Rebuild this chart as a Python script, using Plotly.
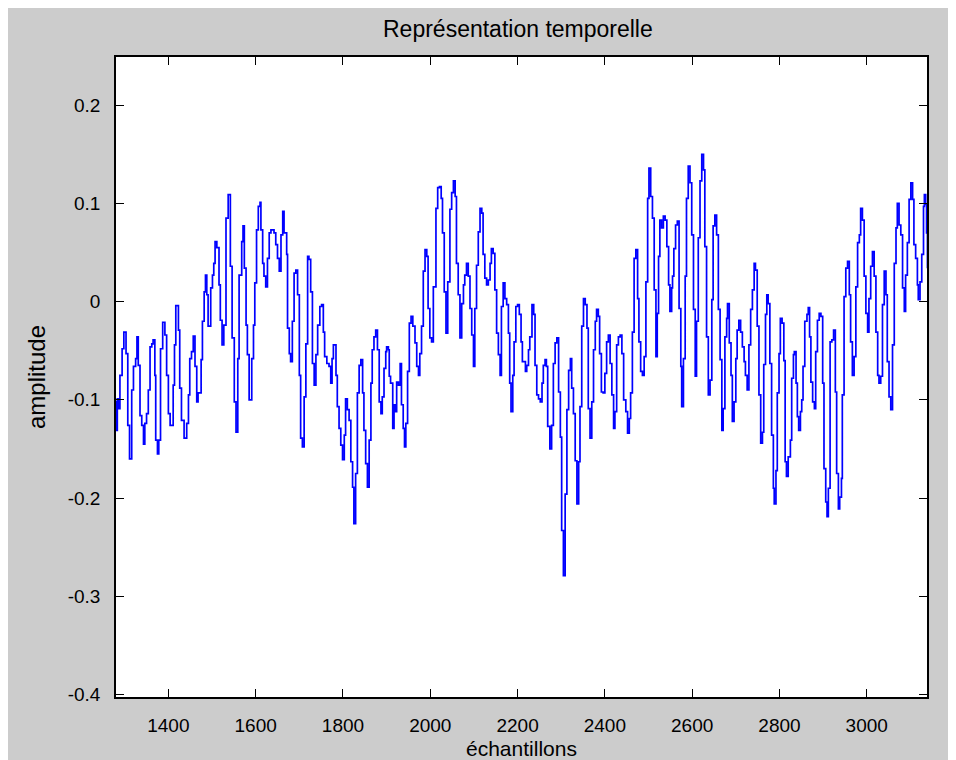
import plotly.graph_objects as go

# ---- data (sample index, amplitude) ----
x_seg1 = [1280,1281,1283,1286,1289,1294,1298,1303,1307,1311,1316,1320,1325,1328,1331,1335,1339,1343,1346,1350,
          1354,1358,1362,1365,1369,1371,1375,1378,1382,1387,1392,1396,1400,1404,1411,1414,1417,1423,1426,1430,
          1436,1442,1446,1449,1453,1457,1461,1465,1468,1475,1478,1482,1485,1488,1491,1497,1501,1504,1507,1511,
          1516,1519,1523,1527,1532,1537,1542,1546,1551,1555,1559,1562,1568,1571,1574,1578,1581,1585]
y_seg1 = [-0.102,-0.131,-0.099,-0.109,-0.075,-0.048,-0.031,-0.053,-0.126,-0.160,-0.090,-0.066,-0.058,-0.036,-0.065,
          -0.116,-0.126,-0.145,-0.124,-0.114,-0.090,-0.046,-0.043,-0.039,-0.075,-0.141,-0.155,-0.141,-0.048,-0.021,
          -0.034,-0.075,-0.114,-0.126,-0.085,-0.044,-0.004,-0.029,-0.088,-0.121,-0.139,-0.124,-0.095,-0.058,-0.051,
          -0.035,-0.066,-0.102,-0.093,-0.059,-0.020,0.010,0.027,0.007,-0.025,0.014,0.027,0.039,0.061,0.055,
          0.017,-0.019,-0.044,-0.024,0.085,0.109,0.036,-0.037,-0.102,-0.133,-0.058,0.027,0.061,0.077,0.034,
          -0.024,-0.054,-0.100]

x_seg2 = [1591,1595,1598,1602,1606,1610,1612,1616,1619,1623,1627,1631,1635,1639,1642,1646,1650,1654,1658,1662,
          1665,1671,1673,1677,1680,1684,1688,1692,1696,1700,1703,1707,1711,1715,1719,1722,1726,1730,1734,1738,
          1742,1747,1751,1755,1758,1763,1768,1772,1775,1778,1784,1787,1791,1795,1799,1803,1806,1810,1814,1818,
          1822,1825,1829,1833,1837,1841,1845,1848,1852,1856,1860,1864,1867,1871,1875,1879,1883,1887,1890,1894,1898]
y_seg2 = [-0.058,-0.024,0.019,0.073,0.097,0.101,0.073,0.039,0.026,0.015,0.044,0.070,0.073,0.073,0.070,
          0.058,0.044,0.031,0.068,0.092,0.070,0.048,-0.027,-0.053,-0.061,-0.020,0.029,0.032,0.007,-0.075,
          -0.139,-0.148,-0.097,-0.043,0.046,0.043,0.010,-0.063,-0.085,-0.054,-0.024,-0.005,-0.003,-0.031,-0.056,
          -0.063,-0.066,-0.083,-0.058,-0.044,-0.075,-0.107,-0.129,-0.146,-0.161,-0.136,-0.099,-0.110,-0.121,-0.163,
          -0.189,-0.226,-0.175,-0.093,-0.065,-0.059,-0.093,-0.131,-0.165,-0.189,-0.141,-0.083,-0.049,-0.036,-0.029,
          -0.049,-0.102,-0.114,-0.097,-0.068,-0.051]

x_seg3 = [1900,1904,1906,1909,1914,1917,1920,1923,1927,1931,1934,1938,1941,1944,1948,1952,1956,1960,1965,1969,
          1973,1976,1980,1984,1988,1992,1995,1999,2003,2007,2013,2017,2021,2025,2028,2032,2036,2040,2045,2049,
          2053,2057,2060,2064,2068,2072,2076,2079,2083,2087,2091,2095,2099,2102,2106,2110,2114,2118,2121,2125,
          2129,2133,2137,2140,2144,2148,2152,2156,2160,2163,2167,2171,2175,2179,2182,2185,2189,2192,2196,2200,
          2204,2208]
y_seg3 = [-0.046,-0.049,-0.076,-0.083,-0.129,-0.105,-0.112,-0.082,-0.085,-0.063,-0.105,-0.129,-0.148,-0.124,-0.071,
          -0.022,-0.015,-0.025,-0.042,-0.066,-0.075,-0.053,-0.025,0.031,0.053,0.046,-0.007,-0.037,-0.041,0.015,
          0.095,0.116,0.117,0.105,0.070,0.010,-0.032,0.020,0.094,0.111,0.123,0.107,0.039,0.007,-0.037,
          -0.002,0.017,0.027,0.039,0.026,-0.007,-0.034,-0.066,-0.007,0.037,0.071,0.095,0.090,0.048,0.024,
          0.017,0.022,0.039,0.054,0.049,0.012,-0.032,-0.054,-0.075,-0.005,0.019,0.003,-0.003,-0.032,-0.083,
          -0.112,-0.075,-0.041,-0.005,-0.003,-0.013,-0.041]

x_seg4 = [2211,2218,2221,2225,2228,2233,2237,2240,2244,2248,2252,2256,2259,2263,2266,2269,2274,2278,2282,2286,
          2290,2294,2298,2301,2305,2309,2313,2317,2321,2324,2328,2332,2336,2340,2343,2347,2351,2355,2359,2362,
          2366,2370,2374,2378,2381,2385,2388,2392,2396,2400,2404,2408,2412,2416,2420,2423,2427,2431,2435,2439,
          2443,2448,2452,2456,2459,2463,2467,2471,2475,2478,2482,2486,2490,2494,2498,2501,2505,2509,2513,2517,2520]
y_seg4 = [-0.061,-0.071,-0.065,-0.049,-0.036,-0.003,-0.013,-0.065,-0.095,-0.099,-0.102,-0.083,-0.065,-0.059,-0.066,
          -0.127,-0.150,-0.126,-0.063,-0.042,-0.037,-0.092,-0.138,-0.233,-0.279,-0.196,-0.110,-0.070,-0.058,-0.088,
          -0.114,-0.162,-0.206,-0.163,-0.107,-0.025,0.003,-0.003,-0.027,-0.109,-0.139,-0.102,-0.049,-0.020,-0.008,
          -0.015,-0.053,-0.092,-0.093,-0.073,-0.041,-0.034,-0.063,-0.095,-0.129,-0.112,-0.044,-0.036,-0.034,-0.053,
          -0.100,-0.112,-0.134,-0.119,-0.093,-0.031,0.044,0.053,0.003,-0.041,-0.071,-0.075,-0.056,0.020,0.105,
          0.136,0.107,0.085,0.012,-0.056,-0.012]

x_seg5 = [2523,2526,2530,2534,2538,2542,2546,2549,2553,2555,2558,2562,2566,2570,2574,2576,2580,2584,2587,2591,
          2595,2599,2603,2607,2610,2614,2618,2622,2626,2629,2633,2637,2641,2645,2648,2652,2656,2660,2664,2668,
          2671,2675,2679,2681,2685,2689,2692,2696,2700,2703,2707,2711,2715,2719,2722,2726,2730,2734,2738,2742,
          2745,2749,2753,2757,2761,2764,2768,2771,2774,2778,2782,2786,2788,2792,2795,2799,2802,2806,2810,2813,
          2816,2820,2825,2828,2832]
y_seg5 = [0.046,0.083,0.075,0.087,0.083,0.056,0.017,-0.010,0.014,0.026,0.054,0.078,0.082,-0.007,-0.066,
          -0.107,-0.058,0.026,0.105,0.138,0.121,0.068,-0.008,-0.076,-0.020,0.065,0.123,0.150,0.134,0.056,
          -0.036,-0.095,-0.080,0.002,0.077,0.088,0.068,-0.008,-0.059,-0.131,-0.109,-0.036,-0.017,-0.002,-0.042,
          -0.075,-0.122,-0.102,-0.058,-0.029,-0.019,-0.031,-0.046,-0.061,-0.075,-0.090,-0.044,-0.008,0.012,0.039,
          0.032,-0.025,-0.095,-0.144,-0.133,-0.064,-0.013,0.007,-0.002,-0.063,-0.136,-0.190,-0.206,-0.172,-0.093,
          -0.053,-0.017,-0.022,-0.060,-0.163,-0.178,-0.158,-0.141,-0.078,-0.054]

x_seg6 = [2834,2838,2841,2844,2848,2851,2854,2858,2863,2866,2869,2872,2876,2880,2883,2887,2891,2895,2899,2902,
          2906,2909,2912,2916,2920,2924,2928,2931,2935,2938,2942,2944,2948,2952,2956,2960,2963,2967,2971,2975,
          2979,2983,2986,2990,2994,2998,3002,3005,3009,3013,3017,3021,3025,3028,3032,3036,3040,3044,3047,3051,
          3055,3059,3063,3067,3070,3074,3078,3082,3086,3089,3093,3097,3101,3105,3108,3112,3116,3118,3122,3126,
          3130,3132,3135,3137,3139]
y_seg6 = [-0.051,-0.083,-0.117,-0.131,-0.112,-0.100,-0.066,-0.020,-0.013,-0.006,-0.036,-0.082,-0.102,-0.109,-0.051,
          -0.019,-0.012,-0.015,-0.083,-0.170,-0.204,-0.219,-0.190,-0.041,-0.039,-0.029,-0.092,-0.175,-0.211,-0.199,
          -0.180,-0.095,0.005,0.034,0.041,0.007,-0.041,-0.075,-0.056,0.015,0.060,0.068,0.095,0.083,0.026,
          -0.012,-0.031,0.003,0.036,0.051,0.026,-0.031,-0.075,-0.083,-0.076,-0.003,0.031,0.007,-0.061,-0.097,
          -0.110,-0.044,0.039,0.075,0.100,0.078,0.068,0.014,-0.010,0.027,0.060,0.104,0.121,0.104,0.058,
          0.044,0.017,0.002,0.020,0.048,0.097,0.109,0.099,0.070,0.034]

x_tick_vals = [1400, 1600, 1800, 2000, 2200, 2400, 2600, 2800, 3000]
x_tick_text = ["1400", "1600", "1800", "2000", "2200", "2400", "2600", "2800", "3000"]
y_tick_vals = [0.2, 0.1, 0, -0.1, -0.2, -0.3, -0.4]
y_tick_text = ["0.2", "0.1", "0", "-0.1", "-0.2", "-0.3", "-0.4"]

title_text = "Représentation temporelle"
x_label = "échantillons"
y_label = "amplitude"

samples = x_seg1 + x_seg2 + x_seg3 + x_seg4 + x_seg5 + x_seg6
amplitude = y_seg1 + y_seg2 + y_seg3 + y_seg4 + y_seg5 + y_seg6

FONT = "Liberation Sans, Arial, sans-serif"

fig = go.Figure()
fig.add_trace(go.Scatter(
    x=samples, y=amplitude, mode="lines",
    line=dict(color="#0000ff", width=1.7, shape="hv"),
    hoverinfo="skip", showlegend=False,
))

axis_common = dict(
    showgrid=False, zeroline=False, showline=True, linecolor="black", linewidth=1.5,
    mirror="ticks", ticks="inside", ticklen=8, tickwidth=1, tickcolor="black",
    tickfont=dict(family=FONT, size=19, color="black"),
)

fig.update_xaxes(range=[1280, 3138], tickvals=x_tick_vals, ticktext=x_tick_text,
                 ticklabelstandoff=10, **axis_common)
fig.update_yaxes(range=[-0.4025, 0.249], tickvals=y_tick_vals, ticktext=y_tick_text,
                 ticklabelstandoff=10, **axis_common)

fig.update_layout(
    width=956, height=760,
    paper_bgcolor="#cccccc", plot_bgcolor="white",
    margin=dict(l=108, r=37, t=49, b=71),
    showlegend=False,
    annotations=[
        dict(text=title_text, xref="paper", yref="paper", x=0.496, y=1 + 28 / 640,
             xanchor="center", yanchor="middle", showarrow=False,
             font=dict(family=FONT, size=23, color="black")),
        dict(text=x_label, xref="paper", yref="paper", x=0.5, y=-51 / 640,
             xanchor="center", yanchor="middle", showarrow=False,
             font=dict(family=FONT, size=21, color="black")),
        dict(text=y_label, xref="paper", yref="paper", x=-80 / 811, y=0.5,
             xanchor="center", yanchor="middle", textangle=-90, showarrow=False,
             font=dict(family=FONT, size=24, color="black")),
    ],
)

fig.write_html("out.html")
